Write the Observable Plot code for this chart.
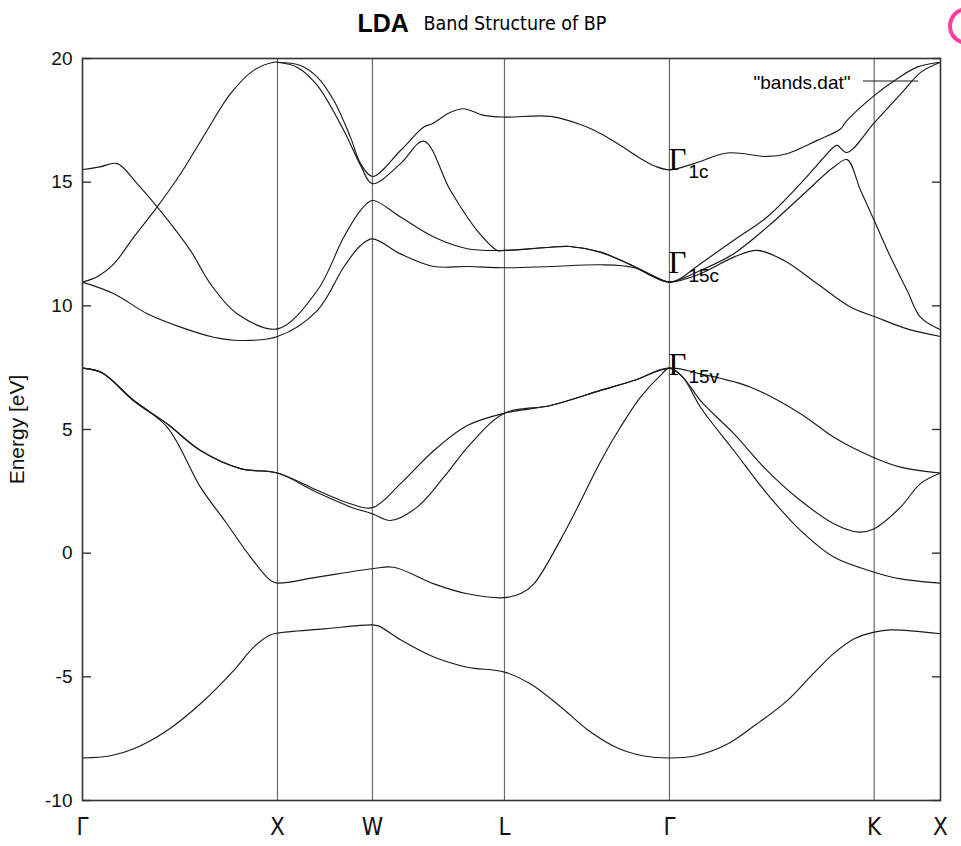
<!DOCTYPE html>
<html>
<head>
<meta charset="utf-8">
<script src="https://cdn.jsdelivr.net/npm/d3@7"></script>
<script src="https://cdn.jsdelivr.net/npm/@observablehq/plot@0.6"></script>
<style>
  html, body { margin: 0; padding: 0; background: #fff; overflow: hidden; }
  #wrap { position: relative; width: 961px; height: 846px; }
  #blob { position: absolute; left: 948px; top: 7px; width: 38px; height: 38px;
          border: 4px solid #ff3d9a; border-radius: 50%; box-sizing: border-box; }
</style>
</head>
<body>
<div id="wrap"><div id="blob"></div></div>
<script>
// High-symmetry points along the k-path (path coordinate) and their labels
const kTicks  = [0, 1.0, 1.487, 2.164, 3.010, 4.06, 4.4];
const kLabels = ["Γ", "X", "W", "L", "Γ", "K", "X"];
const yTicks  = [-10, -5, 0, 5, 10, 15, 20];

// Bands: [k, energy eV] pairs
const band1 = [[0,-8.28],[0.144,-8.19],[0.263,-7.91],[0.434,-7.17],[0.605,-6.09],[0.776,-4.74],[0.878,-3.80],[0.96,-3.32],[1.0,-3.23],
  [1.24,-3.06],[1.487,-2.90],[1.52,-2.95],[1.631,-3.50],[1.802,-4.20],[1.973,-4.61],[2.164,-4.81],
  [2.3,-5.3],[2.45,-6.2],[2.6,-7.2],[2.75,-7.9],[2.88,-8.2],[3.010,-8.28],
  [3.14,-8.2],[3.3,-7.75],[3.45,-6.95],[3.614,-5.96],[3.75,-4.85],[3.853,-4.05],[3.96,-3.45],[4.06,-3.19],[4.144,-3.10],[4.4,-3.26]];

const band2 = [[0,7.48],[0.1,7.29],[0.263,6.15],[0.434,5.10],[0.605,2.67],[0.735,1.25],[0.862,-0.16],[0.964,-1.10],[1.0,-1.21],
  [1.204,-0.97],[1.487,-0.63],[1.596,-0.57],[1.802,-1.24],[1.973,-1.64],[2.164,-1.80],
  [2.25,-1.62],[2.315,-1.24],[2.486,1.05],[2.656,3.70],[2.759,5.10],[2.862,6.31],[2.964,7.19],[3.010,7.48],
  [3.08,7.1],[3.169,5.90],[3.340,4.15],[3.511,2.40],[3.682,0.92],[3.853,-0.16],[4.06,-0.77],[4.195,-1.04],[4.4,-1.21]];

const band3 = [[0,7.48],[0.1,7.29],[0.263,6.17],[0.434,5.23],[0.605,4.15],[0.81,3.42],[1.0,3.24],
  [1.204,2.45],[1.374,1.87],[1.487,1.59],[1.579,1.32],[1.716,1.86],[1.853,3.07],[1.990,4.42],[2.164,5.66],
  [2.4,5.97],[2.656,6.58],[2.827,6.98],[3.010,7.48],
  [3.08,7.1],[3.169,6.17],[3.340,4.83],[3.511,3.34],[3.682,2.13],[3.853,1.19],[3.981,0.85],[4.06,0.99],[4.195,1.86],[4.297,2.81],[4.4,3.24]];

const band4 = [[0,7.48],[0.1,7.29],[0.263,6.17],[0.434,5.23],[0.605,4.15],[0.81,3.42],[1.0,3.24],
  [1.204,2.54],[1.374,2.00],[1.487,1.84],[1.631,2.81],[1.802,4.15],[1.973,5.16],[2.164,5.66],
  [2.4,5.97],[2.656,6.58],[2.827,6.98],[3.010,7.48],
  [3.169,7.25],[3.426,6.71],[3.682,5.64],[3.853,4.69],[4.06,3.86],[4.195,3.48],[4.4,3.24]];

const band5 = [[0,10.96],[0.161,10.49],[0.332,9.68],[0.503,9.14],[0.673,8.73],[0.810,8.60],[1.0,8.76],
  [1.204,9.81],[1.340,11.57],[1.426,12.44],[1.487,12.71],[1.631,12.10],[1.802,11.59],[1.973,11.59],[2.164,11.54],
  [2.4,11.59],[2.656,11.66],[2.827,11.55],[2.92,11.2],[3.010,10.96],
  [3.169,11.30],[3.340,11.97],[3.460,12.24],[3.596,11.84],[3.768,10.89],[3.938,9.95],[4.06,9.57],[4.229,9.07],[4.4,8.76]];

const band6 = [[0,15.51],[0.09,15.62],[0.178,15.75],[0.28,14.94],[0.383,14.0],[0.554,12.23],[0.656,10.89],[0.793,9.68],[1.0,9.07],
  [1.204,10.62],[1.340,12.78],[1.426,13.86],[1.487,14.26],[1.631,13.59],[1.802,12.78],[1.973,12.31],[2.164,12.24],
  [2.4,12.37],[2.5,12.4],[2.656,12.17],[2.827,11.6],[2.93,11.2],[3.010,10.96],
  [3.169,11.43],[3.340,12.11],[3.511,13.18],[3.682,14.40],[3.853,15.61],[3.921,15.91],[3.990,14.67],[4.06,13.45],[4.144,11.97],[4.229,10.62],[4.297,9.54],[4.4,9.03]];

const band7 = [[0,10.96],[0.08,11.2],[0.161,11.70],[0.263,12.78],[0.383,14.0],[0.503,15.34],[0.639,17.09],[0.759,18.58],[0.878,19.52],[0.981,19.85],[1.0,19.85],
  [1.1,19.65],[1.2,18.95],[1.340,17.09],[1.426,15.68],[1.487,14.94],[1.631,15.75],[1.750,16.66],[1.887,14.66],[2.024,13.04],[2.127,12.24],[2.164,12.24],
  [2.4,12.37],[2.5,12.4],[2.656,12.17],[2.827,11.6],[2.93,11.2],[3.010,10.96],
  [3.049,11.03],[3.169,11.70],[3.340,12.65],[3.511,13.59],[3.682,14.94],[3.853,16.42],[3.870,16.49],[3.921,16.20],[4.06,17.40],[4.2,18.6],[4.3,19.45],[4.4,19.85]];

const band8 = [[1.0,19.85],[1.118,19.72],[1.204,19.25],[1.289,18.30],[1.374,16.82],[1.426,15.75],[1.487,15.23],
  [1.631,16.28],[1.750,17.23],[1.793,17.36],[1.887,17.83],[1.955,17.97],[2.058,17.70],[2.164,17.63],
  [2.4,17.66],[2.554,17.33],[2.656,16.97],[2.759,16.48],[2.862,15.96],[2.938,15.64],[3.010,15.50],
  [3.135,15.75],[3.306,16.18],[3.511,16.04],[3.613,16.15],[3.768,16.69],[3.887,17.15],[3.913,17.43],[4.06,18.5],[4.178,19.18],[4.280,19.65],[4.4,19.85]];

// Γ-point annotations: labels and the energies of the glyph / subscript baselines
const gammaSubs = ["1c", "15c", "15v"];
const gammaE    = [15.51, 11.33, 7.19];
const gammaSubE = [15.15, 10.96, 6.86];

const title1 = "LDA";
const title2 = "Band Structure of BP";
const legendLabel = "\"bands.dat\"";
const yLabel = "Energy [eV]";

const bands = [band1, band2, band3, band4, band5, band6, band7, band8];
const labelByK = new Map(kTicks.map((k, i) => [k, kLabels[i]]));
const gammaRows = gammaSubs.map((s, i) => ({sub: s, e: gammaE[i], se: gammaSubE[i]}));

const sans = "'Liberation Sans', Arial, Helvetica, sans-serif";
const narrow = "'Liberation Sans Narrow', 'DejaVu Sans Condensed', 'Liberation Sans', sans-serif";
const serif = "'Liberation Serif', 'Times New Roman', 'DejaVu Serif', serif";
const kGamma = kTicks[4];

const chart = Plot.plot({
  width: 961,
  height: 846,
  marginLeft: 82,
  marginRight: 21,
  marginTop: 58,
  marginBottom: 46,
  x: {domain: [kTicks[0], kTicks[kTicks.length - 1]]},
  y: {domain: [-10, 20]},
  style: {background: "white", color: "#111", fontFamily: sans, overflow: "visible"},
  marks: [
    Plot.ruleX(kTicks.slice(1, -1), {stroke: "#6a6a6a", strokeWidth: 1.2}),
    ...bands.map(b => Plot.line(b, {x: d => d[0], y: d => d[1], curve: "catmull-rom", stroke: "#1a1a1a", strokeWidth: 1.15})),
    Plot.frame({stroke: "#333", strokeWidth: 1.6}),
    // y tick labels (plain hyphen-minus, as in the original)
    Plot.axisY(yTicks, {anchor: "left", tickSize: 0, tickPadding: 10, fontSize: 19, label: null, fill: "#111", tickFormat: d => String(d)}),
    // inward tick marks, left and right
    Plot.axisY(yTicks, {anchor: "left", tickSize: 9, dx: 9, tickFormat: () => "", label: null, stroke: "#333", strokeWidth: 1.4}),
    Plot.axisY(yTicks, {anchor: "right", tickSize: 9, dx: -9, tickFormat: () => "", label: null, stroke: "#333", strokeWidth: 1.4}),
    // x tick labels
    Plot.axisX(kTicks, {anchor: "bottom", tickSize: 0, tickPadding: 17, fontSize: 24, fontFamily: narrow, tickFormat: d => labelByK.get(d), label: null}),
    // y label
    Plot.text([yLabel], {frameAnchor: "left", dx: -65, rotate: -90, textAnchor: "middle", lineAnchor: "middle", fontSize: 21, fill: "#111", fontFamily: sans}),
    // title
    Plot.text([title1], {frameAnchor: "top-left", dx: 275, dy: -27, lineAnchor: "bottom", textAnchor: "start", fontSize: 25, fontWeight: "bold", fill: "#000"}),
    Plot.text([title2], {frameAnchor: "top-left", dx: 341, dy: -29, lineAnchor: "bottom", textAnchor: "start", fontSize: 19.5, fontFamily: narrow, fill: "#000"}),
    // legend
    Plot.text([legendLabel], {frameAnchor: "top-right", dx: -90, dy: 30, lineAnchor: "bottom", textAnchor: "end", fontSize: 19, fill: "#000"}),
    (index, scales, values, dims) => {
      const x2 = dims.width - dims.marginRight - 22;
      const x1 = dims.width - dims.marginRight - 77;
      const y = dims.marginTop + 23;
      const l = d3.create("svg:line")
        .attr("x1", x1).attr("x2", x2).attr("y1", y).attr("y2", y)
        .attr("stroke", "#1a1a1a").attr("stroke-width", 1.2);
      return l.node();
    },
    // Γ annotations
    Plot.text(gammaRows, {x: () => kGamma, y: "e", text: () => "Γ", textAnchor: "start", lineAnchor: "bottom", dx: -1, fontSize: 31, fontFamily: serif, fill: "#000"}),
    Plot.text(gammaRows, {x: () => kGamma, y: "se", text: "sub", textAnchor: "start", lineAnchor: "bottom", dx: 19, fontSize: 19, fontFamily: sans, fill: "#000"})
  ]
});
document.getElementById("wrap").prepend(chart);
</script>
</body>
</html>
